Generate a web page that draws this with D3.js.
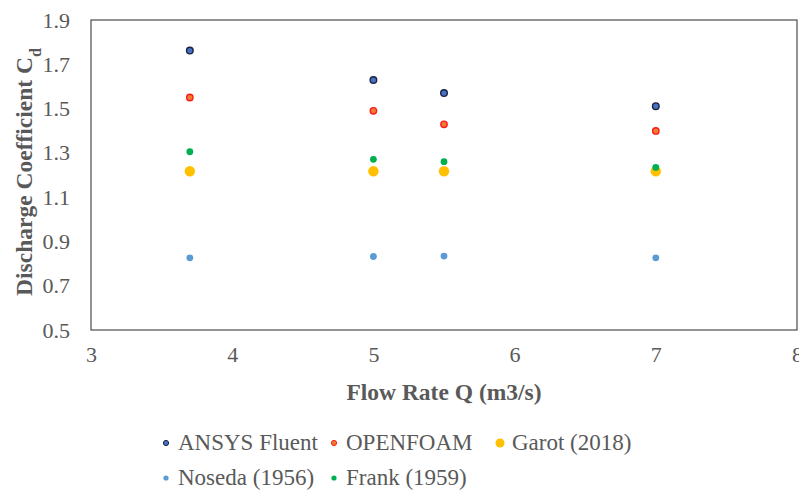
<!DOCTYPE html>
<html>
<head>
<meta charset="utf-8">
<script src="https://cdn.jsdelivr.net/npm/d3@7"></script>
<style>
  html, body { margin: 0; padding: 0; background: #fff; }
  svg { display: block; }
  text { font-family: "Liberation Serif", "Times New Roman", serif; }
</style>
</head>
<body>
<svg id="chart" width="799" height="495"></svg>
<script>
// Flow rates (m3/s) at which the discharge coefficient was evaluated
const flowRates = [3.7, 5, 5.5, 7];

// Discharge coefficient per method
const ansysFluent = [1.762, 1.629, 1.570, 1.511];
const openFoam    = [1.550, 1.490, 1.429, 1.399];
const garot2018   = [1.217, 1.217, 1.217, 1.217];
const noseda1956  = [0.826, 0.832, 0.834, 0.826];
const frank1959   = [1.305, 1.271, 1.260, 1.234];

const xTicks = [3, 4, 5, 6, 7, 8];
const yTicks = [0.5, 0.7, 0.9, 1.1, 1.3, 1.5, 1.7, 1.9];

const series = [
  { name: "ANSYS Fluent",  values: ansysFluent, fill: "#4472C4", stroke: "#1c2240", r: 3.3, sw: 1.4 },
  { name: "OPENFOAM",      values: openFoam,    fill: "#ED7D31", stroke: "#FF1A1A", r: 3.2, sw: 1.4 },
  { name: "Garot (2018)",  values: garot2018,   fill: "#FFC000", stroke: "none",    r: 5.2, sw: 0 },
  { name: "Noseda (1956)", values: noseda1956,  fill: "#5B9BD5", stroke: "none",    r: 3.4, sw: 0 },
  { name: "Frank (1959)",  values: frank1959,   fill: "#00B050", stroke: "none",    r: 3.4, sw: 0 }
];

const serif = '"Liberation Serif", "Times New Roman", serif';
const textColor = "#595959";

const svg = d3.select("#chart");
const plot = { left: 91, right: 797, top: 20, bottom: 330 };

const x = d3.scaleLinear().domain([3, 8]).range([plot.left, plot.right]);
const y = d3.scaleLinear().domain([0.5, 1.9]).range([plot.bottom, plot.top]);

// Plot frame
svg.append("rect")
  .attr("x", plot.left).attr("y", plot.top)
  .attr("width", plot.right - plot.left).attr("height", plot.bottom - plot.top)
  .attr("fill", "none").attr("stroke", "#595959").attr("stroke-width", 1.3);

// Axes (labels only, the frame serves as axis lines)
const xAxis = d3.axisBottom(x).tickValues(xTicks).tickSize(0).tickPadding(16).tickFormat(d3.format("d"));
const gx = svg.append("g").attr("transform", `translate(0,${plot.bottom})`).call(xAxis)
  .attr("font-family", serif).attr("font-size", 22);
gx.select(".domain").remove();
gx.selectAll("text").attr("fill", textColor);

const yAxis = d3.axisLeft(y).tickValues(yTicks).tickSize(0).tickPadding(21).tickFormat(d3.format(".1f"));
const gy = svg.append("g").attr("transform", `translate(${plot.left},0)`).call(yAxis)
  .attr("font-family", serif).attr("font-size", 22);
gy.select(".domain").remove();
gy.selectAll("text").attr("fill", textColor);

// Data points
series.forEach(s => {
  svg.append("g").selectAll("circle")
    .data(flowRates.map((q, i) => ({ q, v: s.values[i] })))
    .join("circle")
    .attr("cx", d => x(d.q))
    .attr("cy", d => y(d.v))
    .attr("r", s.r)
    .attr("fill", s.fill)
    .attr("stroke", s.stroke)
    .attr("stroke-width", s.sw);
});

// Axis titles
svg.append("text")
  .attr("x", (plot.left + plot.right) / 2).attr("y", 400)
  .attr("text-anchor", "middle")
  .attr("font-family", serif)
  .attr("fill", textColor)
  .attr("font-size", 23.5).attr("font-weight", "bold")
  .text("Flow Rate Q (m3/s)");

const yTitle = svg.append("text")
  .attr("transform", "translate(32,172) rotate(-90)")
  .attr("text-anchor", "middle")
  .attr("font-family", serif)
  .attr("fill", textColor)
  .attr("font-size", 23.5).attr("font-weight", "bold");
yTitle.append("tspan").text("Discharge Coefficient C");
yTitle.append("tspan").attr("baseline-shift", "sub").attr("font-size", 16).text("d");

// Legend
const legendPos = [
  { mx: 166, ty: 450 }, { mx: 334, ty: 450 }, { mx: 500, ty: 450 },
  { mx: 166, ty: 485 }, { mx: 334, ty: 485 }
];
series.forEach((s, i) => {
  const p = legendPos[i];
  const g = svg.append("g");
  g.append("circle")
    .attr("cx", p.mx).attr("cy", p.ty - 7)
    .attr("r", s.name === "Garot (2018)" ? 4.5 : 2.6)
    .attr("fill", s.fill)
    .attr("stroke", s.stroke)
    .attr("stroke-width", s.sw ? 1 : 0);
  g.append("text")
    .attr("x", p.mx + 12).attr("y", p.ty)
    .attr("font-family", serif)
    .attr("fill", textColor)
    .attr("font-size", 23)
    .text(s.name);
});
</script>
</body>
</html>
